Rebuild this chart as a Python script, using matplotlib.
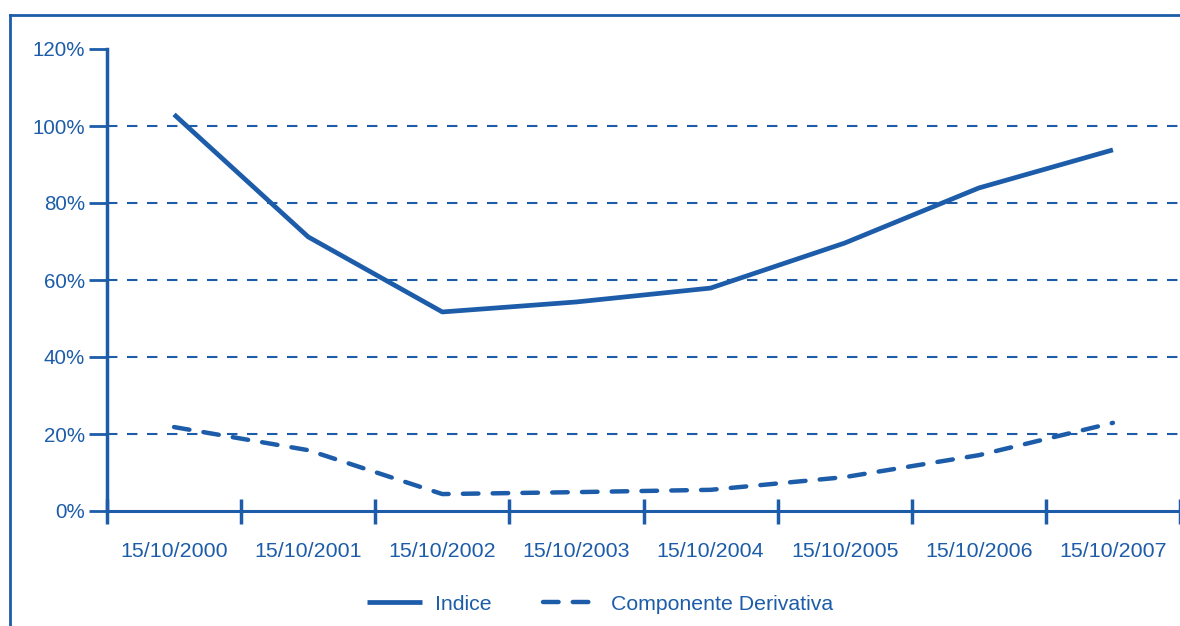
import matplotlib.pyplot as plt
from matplotlib.lines import Line2D

# data
dates = ["15/10/2000", "15/10/2001", "15/10/2002", "15/10/2003",
         "15/10/2004", "15/10/2005", "15/10/2006", "15/10/2007"]
indice = [1.03, 0.712, 0.517, 0.543, 0.579, 0.696, 0.839, 0.938]
derivativa = [0.218, 0.158, 0.044, 0.049, 0.055, 0.088, 0.145, 0.229]
y_ticks = [0, 0.2, 0.4, 0.6, 0.8, 1.0, 1.2]

BLUE = '#1c5ca9'
plt.rcParams['font.family'] = ['Liberation Sans', 'DejaVu Sans']

fig = plt.figure(figsize=(11.8, 6.26), dpi=100)
ax = fig.add_axes([107 / 1180, 1 - 511 / 626, 1 - 107 / 1180, (511 - 49) / 626])

x = [i + 0.5 for i in range(len(dates))]

# horizontal dashed grid
for v in y_ticks[1:-1]:
    ax.axhline(v, color=BLUE, lw=1.5, dashes=(5, 4.6), zorder=1)

ax.plot(x, indice, color=BLUE, lw=3.4, solid_capstyle='butt', label='Indice', zorder=3)
ax.plot(x, derivativa, color=BLUE, lw=3.2, dashes=(3.5, 3.2), dash_capstyle='round',
        label='Componente Derivativa', zorder=3)

ax.set_xlim(0, len(dates))
ax.set_ylim(0, 1.2)

ax.set_yticks(y_ticks)
ax.set_yticklabels([f"{int(round(v * 100))}%" for v in y_ticks])
ax.set_xticks(range(len(dates) + 1))
ax.set_xticklabels([])
ax.set_xticks(x, minor=True)
ax.set_xticklabels(dates, minor=True)

ax.tick_params(axis='y', direction='out', length=13, width=2, color=BLUE,
               labelcolor=BLUE, labelsize=14.8, pad=3)
ax.tick_params(axis='x', which='major', direction='inout', length=18, width=2.5, color=BLUE)
ax.tick_params(axis='x', which='minor', length=0, labelcolor=BLUE, labelsize=15.4, pad=22)

for side in ['top', 'right']:
    ax.spines[side].set_visible(False)
ax.spines['left'].set_color(BLUE)
ax.spines['left'].set_linewidth(2.5)
ax.spines['bottom'].set_color(BLUE)
ax.spines['bottom'].set_linewidth(2.2)

# outer frame (left and top edges)
fig.add_artist(Line2D([10 / 1180, 10 / 1180], [0, 1 - 15 / 626], color=BLUE, lw=2))
fig.add_artist(Line2D([10 / 1180, 1], [1 - 15 / 626, 1 - 15 / 626], color=BLUE, lw=2))

leg = fig.legend(loc='center', bbox_to_anchor=(600 / 1180, 1 - 604 / 626), ncol=2,
                 frameon=False, fontsize=15.3, handlelength=2.6, handletextpad=0.6,
                 columnspacing=2.4)
for t in leg.get_texts():
    t.set_color(BLUE)

fig.savefig('out.png', dpi=100)
